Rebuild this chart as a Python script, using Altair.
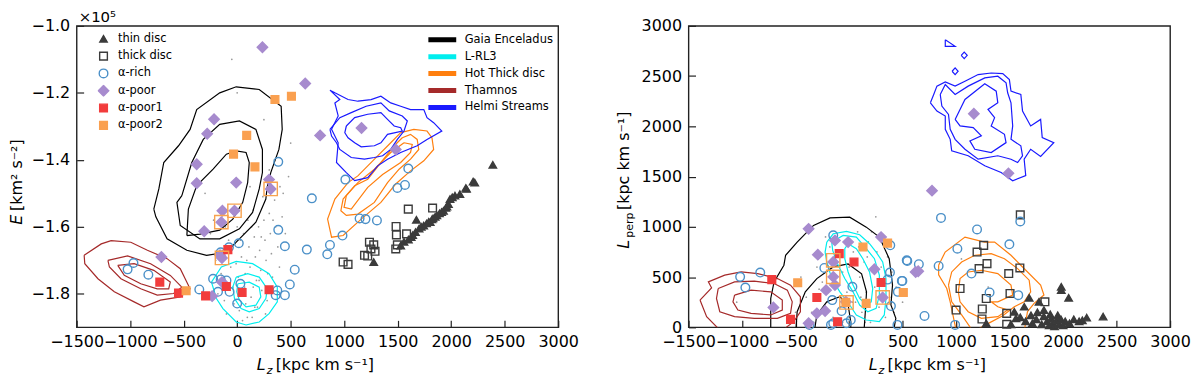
import altair as alt
import pandas as pd

W, H = 484, 303

# ---------------- axes ----------------
X_TICKS = [-1500, -1000, -500, 0, 500, 1000, 1500, 2000, 2500, 3000]
X_DOMAIN = [-1500, 3000]
E_TICKS = [-1.8, -1.6, -1.4, -1.2, -1.0]          # units of 1e5 km^2 s^-2
E_DOMAIN = [-1.9, -1.0]
LP_TICKS = [0, 500, 1000, 1500, 2000, 2500, 3000]
LP_DOMAIN = [0, 3000]

# ---------------- star populations ----------------
POPS = ["thin disc", "thick disc", "α-rich", "α-poor", "α-poor1", "α-poor2"]
POP_SHAPES = ["triangle-up", "square", "circle", "diamond", "square", "square"]
POP_FILLS = ["#3b3b3b", "transparent", "transparent", "#a78bce", "#f23c3c", "#faa050"]
POP_STROKES = ["#3b3b3b", "#3b3b3b", "#4b90c8", "#a78bce", "#f23c3c", "#faa050"]
POP_SIZES = [55, 60, 75, 110, 60, 60]

# left panel: (Lz, E/1e5)
THIN_E = [(1276, -1.705), (1528, -1.656), (1559, -1.645), (1600, -1.638), (1626, -1.631), (1640, -1.625),
          (1666, -1.616), (1675, -1.579), (1700, -1.605), (1720, -1.600), (1743, -1.596), (1770, -1.590),
          (1790, -1.585), (1804, -1.586), (1820, -1.578), (1830, -1.575), (1850, -1.570), (1866, -1.566),
          (1890, -1.560), (1910, -1.556), (1928, -1.552), (1950, -1.543), (1960, -1.540), (1974, -1.532),
          (1989, -1.517), (2010, -1.512), (2035, -1.507), (2081, -1.502), (2137, -1.484), (2143, -1.487),
          (2205, -1.465), (2220, -1.468), (2389, -1.415)]
THICK_E = [(1599, -1.547), (1826, -1.544), (1485, -1.599), (1488, -1.624), (1583, -1.621), (1482, -1.666),
           (1497, -1.654), (1236, -1.646), (1276, -1.654), (1288, -1.673), (1250, -1.666), (1190, -1.685),
           (1220, -1.687), (990, -1.705), (1036, -1.712)]
RICH_E = [(384, -1.406), (698, -1.515), (384, -1.609), (446, -1.658), (538, -1.728), (492, -1.772),
          (446, -1.804), (360, -1.804), (375, -1.790), (15, -1.649), (-77, -1.661), (-154, -1.676),
          (-154, -1.757), (-225, -1.755), (-179, -1.794), (-71, -1.794), (30, -1.770), (0, -1.829),
          (-354, -1.787), (-969, -1.708), (-1024, -1.727), (-830, -1.743), (651, -1.668), (867, -1.654),
          (842, -1.682), (984, -1.626), (1144, -1.575), (1199, -1.577), (1306, -1.581), (1011, -1.459),
          (1599, -1.426), (1568, -1.475), (1497, -1.484), (-100, -1.760)]
POOR_E = [(236, -1.064), (-216, -1.279), (-280, -1.322), (-378, -1.413), (-378, -1.470), (-9, -1.468),
          (636, -1.172), (775, -1.327), (1162, -1.305), (1482, -1.369), (298, -1.459), (313, -1.487),
          (-138, -1.552), (-25, -1.552), (-148, -1.586), (-308, -1.613), (-708, -1.690), (-142, -1.693),
          (-160, -1.685), (-142, -1.765), (-234, -1.807)]
POOR1_E = [(-723, -1.765), (-548, -1.798), (-295, -1.806), (-87, -1.668), (-101, -1.778), (46, -1.796),
           (298, -1.788)]
POOR2_E = [(353, -1.220), (507, -1.210), (89, -1.327), (-34, -1.383), (166, -1.421), (-477, -1.791)]
BOX_E = [(313, -1.487), (-25, -1.552), (-148, -1.586), (-142, -1.693)]
DOTS_E = [(-250, -1.62), (-200, -1.70), (-150, -1.74), (-120, -1.82), (-100, -1.86), (-60, -1.72), (-40, -1.78),
          (-20, -1.65), (0, -1.60), (10, -1.75), (20, -1.85), (40, -1.69), (60, -1.62), (70, -1.78),
          (80, -1.83), (100, -1.58), (110, -1.66), (120, -1.72), (130, -1.81), (140, -1.87), (150, -1.55),
          (160, -1.63), (170, -1.69), (180, -1.76), (190, -1.84), (200, -1.60), (210, -1.67), (220, -1.73),
          (230, -1.79), (240, -1.51), (250, -1.58), (260, -1.64), (270, -1.70), (280, -1.82), (300, -1.56),
          (310, -1.62), (320, -1.68), (330, -1.75), (350, -1.52), (360, -1.60), (380, -1.66), (400, -1.48),
          (420, -1.57), (450, -1.62), (480, -1.45), (-80, -1.64), (-30, -1.83), (50, -1.88), (90, -1.70),
          (150, -1.78), (-180, -1.80), (-140, -1.67), (300, -1.43), (350, -1.40), (120, -1.48), (-300, -1.50),
          (250, -1.28), (-50, -1.10), (500, -1.35), (0, -1.20), (-220, -1.58), (-110, -1.60), (-10, -1.71),
          (30, -1.64), (75, -1.74), (95, -1.87), (135, -1.60), (165, -1.84), (205, -1.76), (225, -1.63),
          (265, -1.86), (285, -1.74), (335, -1.58), (395, -1.72), (430, -1.50)]

# right panel: (Lz, Lperp)
THIN_P = [(1282, 40), (1513, 30), (1544, 155), (1637, 205), (1683, 294), (1713, 40), (1775, 254), (1821, 172),
          (1983, 403), (1983, 370), (2052, 294), (2220, 96), (2374, 106), (1600, 100), (1650, 60), (1700, 120),
          (1750, 80), (1800, 30), (1820, 110), (1850, 60), (1870, 20), (1890, 90), (1900, 40), (1920, 10),
          (1940, 70), (1960, 30), (1980, 80), (2000, 20), (2020, 60), (2060, 40), (2100, 80), (2150, 60),
          (2180, 70), (1880, 130), (1760, 150), (1560, 90), (1950, 120)]
THICK_P = [(1600, 1119), (1258, 815), (1196, 749), (1289, 634), (1215, 584), (1596, 591), (1492, 535),
           (1037, 386), (1504, 337), (1282, 287), (1830, 254), (1245, 182), (1000, 172), (1473, 139),
           (1242, 83), (1473, 30)]
RICH_P = [(-1018, 502), (-830, 545), (-969, 396), (-148, 915), (-231, 591), (31, 403), (-157, 271), (385, 816),
          (382, 545), (360, 475), (493, 462), (539, 667), (456, 353), (391, 212), (16, 73), (-169, 24),
          (-369, 24), (452, 24), (-70, 162), (-148, 40), (-24, 40), (544, 660), (652, 628), (837, 611),
          (859, 1089), (1196, 974), (1012, 782), (1498, 826), (1600, 1053), (1144, 535), (1313, 347),
          (1581, 320), (705, 113), (991, 24), (498, 462)]
POOR_P = [(-378, 980), (-292, 723), (-132, 865), (-9, 848), (299, 898), (237, 578), (622, 551), (-148, 650),
          (-148, 502), (-132, 420), (-215, 370), (-707, 198), (-301, 139), (-224, 162), (314, 297), (-30, 254),
          (-378, 40), (775, 1360), (646, 558), (1166, 2126), (1489, 1532)]
POOR1_P = [(-722, 475), (-92, 733), (46, 650), (-301, 297), (299, 446), (-547, 79), (-107, 56)]
POOR2_P = [(-480, 443), (130, 799), (360, 838), (507, 347), (160, 238), (-30, 248)]
BOX_P = [(-148, 667), (-148, 502), (-24, 248), (314, 297)]
DOTS_P = [(-400, 300), (-350, 150), (-300, 600), (-250, 450), (-200, 250), (-180, 800), (-150, 100), (-120, 400),
          (-100, 700), (-80, 200), (-60, 550), (-40, 850), (-20, 350), (0, 100), (0, 600), (20, 450), (40, 750),
          (60, 250), (80, 950), (100, 500), (120, 150), (140, 650), (160, 350), (180, 850), (200, 50), (220, 550),
          (240, 400), (260, 750), (280, 200), (300, 600), (320, 450), (340, 100), (360, 700), (380, 300),
          (400, 550), (420, 150), (440, 400), (-330, 50), (-220, 900), (-130, 300), (30, 250), (90, 800),
          (150, 50), (210, 950), (270, 300), (330, 850), (-60, 50), (110, 300), (170, 700), (-280, 380),
          (500, 250), (-500, 150), (250, 1100), (1050, 680), (1300, 400), (-1050, 250), (-450, 500)]

# ---------------- contours ----------------
C_NAMES = ["Gaia Enceladus", "L-RL3", "Hot Thick disc", "Thamnos", "Helmi Streams"]
C_COLORS = ["#000000", "#00eeee", "#ff7f0e", "#a52a2a", "#1a1aff"]

GE_E = [
    [(-779, -1.547), (-732, -1.487), (-686, -1.408), (-548, -1.358), (-440, -1.309), (-378, -1.250),
     (-163, -1.200), (-9, -1.182), (206, -1.190), (411, -1.240), (421, -1.309), (390, -1.369), (314, -1.438),
     (280, -1.482), (268, -1.517), (175, -1.586), (21, -1.636), (-101, -1.676), (-286, -1.685), (-470, -1.670),
     (-655, -1.636), (-760, -1.570)],
    [(-517, -1.507), (-424, -1.408), (-317, -1.339), (-163, -1.294), (21, -1.284), (175, -1.309), (236, -1.369),
     (236, -1.438), (206, -1.487), (144, -1.557), (21, -1.606), (-163, -1.636), (-348, -1.636), (-532, -1.596),
     (-563, -1.527)],
    [(-470, -1.626), (-456, -1.547), (-378, -1.477), (-225, -1.428), (-101, -1.383), (-9, -1.373), (83, -1.378),
     (113, -1.408), (98, -1.468), (52, -1.527), (-41, -1.577), (-163, -1.610), (-348, -1.622)],
]
LRL3_E = [
    [(-240, -1.765), (-148, -1.720), (-9, -1.703), (144, -1.710), (298, -1.740), (375, -1.780), (375, -1.824),
     (298, -1.859), (206, -1.884), (83, -1.893), (-9, -1.884), (-133, -1.844), (-194, -1.814)],
    [(-9, -1.750), (98, -1.740), (206, -1.750), (282, -1.785), (268, -1.814), (206, -1.844), (113, -1.854),
     (37, -1.844), (-25, -1.814), (-41, -1.780)],
    [(6, -1.770), (113, -1.765), (206, -1.780), (221, -1.809), (175, -1.834), (83, -1.839), (21, -1.819),
     (-4, -1.794)],
]
HOT_E = [
    [(1528, -1.319), (1651, -1.309), (1774, -1.314), (1820, -1.334), (1836, -1.369), (1744, -1.403),
     (1620, -1.433), (1479, -1.473), (1343, -1.527), (1159, -1.577), (990, -1.626), (882, -1.631),
     (845, -1.577), (913, -1.517), (1036, -1.468), (1128, -1.448), (1313, -1.388), (1435, -1.349)],
    [(1543, -1.334), (1620, -1.324), (1682, -1.339), (1697, -1.369), (1620, -1.398), (1513, -1.428),
     (1405, -1.468), (1282, -1.527), (1128, -1.562), (1020, -1.566), (969, -1.552), (990, -1.517),
     (1098, -1.477), (1220, -1.458), (1343, -1.408), (1467, -1.358)],
    [(1559, -1.349), (1636, -1.354), (1620, -1.378), (1528, -1.408), (1359, -1.444), (1220, -1.482),
     (1066, -1.547), (999, -1.542), (1020, -1.507), (1128, -1.468), (1282, -1.428), (1435, -1.378)],
]
THAM_E = [
    [(-1430, -1.685), (-1270, -1.651), (-1178, -1.641), (-994, -1.646), (-839, -1.670), (-655, -1.695),
     (-532, -1.725), (-440, -1.785), (-532, -1.809), (-717, -1.819), (-871, -1.839), (-963, -1.824),
     (-1148, -1.794), (-1301, -1.755), (-1424, -1.710)],
    [(-1208, -1.700), (-1024, -1.687), (-809, -1.710), (-625, -1.745), (-517, -1.780), (-594, -1.799),
     (-747, -1.804), (-901, -1.785), (-1086, -1.755), (-1194, -1.720)],
    [(-1116, -1.715), (-963, -1.710), (-779, -1.730), (-625, -1.765), (-640, -1.785), (-747, -1.785),
     (-901, -1.770), (-1055, -1.745)],
]
HELMI_E = [
    [(867, -1.192), (959, -1.220), (913, -1.230), (944, -1.269), (882, -1.309), (944, -1.349), (928, -1.408),
     (1020, -1.438), (1098, -1.462), (1220, -1.453), (1313, -1.418), (1405, -1.398), (1528, -1.378),
     (1682, -1.358), (1774, -1.339), (1912, -1.314), (1836, -1.289), (1774, -1.274), (1744, -1.250),
     (1620, -1.250), (1528, -1.240), (1435, -1.230), (1343, -1.210), (1251, -1.220), (1128, -1.225),
     (1036, -1.220), (913, -1.200)],
    [(867, -1.309), (959, -1.274), (1066, -1.259), (1205, -1.240), (1343, -1.230), (1421, -1.254),
     (1543, -1.269), (1590, -1.284), (1559, -1.314), (1497, -1.339), (1435, -1.369), (1359, -1.388),
     (1282, -1.393), (1190, -1.398), (1066, -1.393), (959, -1.369), (928, -1.349), (882, -1.329)],
    [(1020, -1.299), (1098, -1.274), (1220, -1.264), (1343, -1.259), (1405, -1.279), (1467, -1.299),
     (1528, -1.304), (1543, -1.314), (1405, -1.324), (1343, -1.349), (1282, -1.358), (1159, -1.361),
     (1098, -1.349), (1036, -1.334), (1006, -1.319)],
]

GE_P = [
    [(-732, -92), (-732, 287), (-701, 452), (-609, 618), (-593, 717), (-485, 848), (-332, 1014), (-178, 1089),
     (6, 1096), (161, 997), (283, 898), (375, 683), (406, 420), (391, 222), (437, 89), (406, -92)],
    [(-501, -92), (-485, 155), (-409, 353), (-301, 485), (-148, 601), (-9, 631), (117, 532), (163, 353),
     (154, 188), (136, -92)],
    [(-332, -92), (-301, 123), (-208, 254), (-86, 304), (-9, 222), (16, 56), (16, -92)],
]
LRL3_P = [
    [(-208, 848), (-148, 931), (-24, 954), (99, 921), (191, 832), (253, 749), (314, 650), (345, 485),
     (345, 287), (329, 123), (283, 56), (161, 73), (68, 123), (6, 222), (-86, 353), (-162, 485), (-208, 650),
     (-224, 749)],
    [(-162, 848), (-55, 915), (68, 898), (161, 782), (237, 683), (283, 519), (283, 321), (253, 188), (175, 155),
     (99, 222), (37, 353), (-40, 485), (-116, 650), (-153, 766)],
    [(-9, 832), (68, 782), (129, 683), (191, 551), (221, 386), (207, 254), (161, 222), (99, 287), (37, 420),
     (-9, 551), (-40, 683), (-40, 782)],
]
HOT_P = [
    [(837, 618), (898, 749), (1083, 898), (1267, 848), (1360, 848), (1513, 717), (1605, 618), (1790, 420),
     (1821, 321), (1729, 238), (1667, 155), (1636, -43), (1003, -43), (945, 254), (913, 386), (837, 522)],
    [(929, 420), (959, 551), (1052, 650), (1175, 717), (1328, 733), (1452, 683), (1575, 584), (1683, 469),
     (1697, 353), (1636, 254), (1544, 205), (1436, 116), (1298, 37), (1160, -43), (1052, 123), (959, 254)],
    [(1021, 353), (1037, 485), (1113, 551), (1236, 568), (1390, 535), (1513, 420), (1529, 321), (1390, 254),
     (1328, 254), (1390, 205), (1482, 172), (1390, 106), (1236, 89), (1113, 155), (1037, 254)],
]
THAM_P = [
    [(-1393, 271), (-1285, 393), (-1315, 452), (-1162, 519), (-1008, 551), (-854, 535), (-670, 485),
     (-547, 420), (-455, 304), (-455, 155), (-517, 56), (-640, -43), (-1193, -43), (-1331, 106)],
    [(-1223, 386), (-1070, 452), (-886, 459), (-701, 436), (-577, 370), (-531, 254), (-547, 139), (-670, 89),
     (-886, 89), (-1070, 106), (-1208, 155), (-1239, 287)],
    [(-1070, 321), (-916, 370), (-732, 353), (-624, 271), (-624, 172), (-732, 123), (-916, 139), (-1039, 172),
     (-1085, 254)],
]
HELMI_P = [
    [(760, 2234), (791, 2317), (821, 2400), (899, 2442), (991, 2400), (1083, 2449), (1206, 2515), (1328, 2531),
     (1436, 2525), (1498, 2465), (1513, 2350), (1605, 2317), (1621, 2152), (1697, 2004), (1790, 2069),
     (1805, 1888), (1913, 1838), (1790, 1700), (1697, 1772), (1636, 1673), (1651, 1509), (1529, 1459),
     (1421, 1541), (1268, 1608), (1113, 1707), (959, 1756), (945, 1871), (899, 1970), (899, 2103), (821, 2152)],
    [(852, 2317), (899, 2416), (991, 2317), (1113, 2400), (1268, 2482), (1390, 2499), (1467, 2433), (1482, 2334),
     (1513, 2234), (1529, 2004), (1513, 1871), (1605, 1806), (1621, 1707), (1575, 1640), (1513, 1673),
     (1390, 1707), (1206, 1673), (1083, 1772), (991, 1871), (945, 1970), (929, 2119), (867, 2202)],
    [(991, 2069), (1083, 2267), (1268, 2423), (1375, 2350), (1390, 2234), (1298, 2168), (1360, 2086),
     (1328, 2004), (1452, 1921), (1467, 1838), (1328, 1739), (1175, 1772), (1129, 1855), (1236, 1905),
     (1160, 1987), (1037, 2004)],
    [(899, 2861), (991, 2796), (899, 2796)],
    [(1048, 2707), (1076, 2739), (1104, 2707), (1076, 2674)],
    [(963, 2548), (991, 2581), (1019, 2548), (991, 2515)],
]

FONT = "DejaVu Sans"


def star_df(groups):
    rows = []
    for name, pts in zip(POPS, groups):
        for x, y in pts:
            rows.append({"x": x, "y": y, "pop": name})
    return pd.DataFrame(rows)


def pts_df(pts):
    return pd.DataFrame({"x": [p[0] for p in pts], "y": [p[1] for p in pts]})


def contour_df(groups):
    rows = []
    for name, levels in zip(C_NAMES, groups):
        for li, pts in enumerate(levels):
            loop = list(pts) + [pts[0]]
            for k, (x, y) in enumerate(loop):
                rows.append({"x": x, "y": y, "group": name, "loop": f"{name}-{li}", "k": k})
    return pd.DataFrame(rows)


def panel(stars, dots, conts, boxes, y_domain, y_ticks, y_fmt, legend, texts):
    xs = alt.Scale(domain=X_DOMAIN, nice=False, zero=False)
    ys = alt.Scale(domain=y_domain, nice=False, zero=False)
    lab_x = alt.Axis(values=X_TICKS, orient="bottom", ticks=False, domain=False, grid=False, title=None,
                     labelPadding=6, labelFontSize=16, labelFont=FONT, labelColor="black", format="d",
                     labelOverlap=False, labelFlush=False, labelBound=False)
    lab_y = alt.Axis(values=y_ticks, orient="left", ticks=False, domain=False, grid=False, title=None,
                     labelPadding=7, labelFontSize=16, labelFont=FONT, labelColor="black", format=y_fmt,
                     labelOverlap=False, labelFlush=False, labelBound=False)
    tick_x = alt.Axis(values=X_TICKS, orient="bottom", labels=False, domain=False, grid=False, title=None,
                      tickSize=7, tickColor="#222222", tickWidth=1.2, offset=-7)
    tick_y = alt.Axis(values=y_ticks, orient="left", labels=False, domain=False, grid=False, title=None,
                      tickSize=7, tickColor="#222222", tickWidth=1.2, offset=-7)

    if legend:
        leg_s = alt.Legend(title=None, orient="none", legendX=21, legendY=7, labelFont=FONT, labelFontSize=11.5,
                           labelColor="black", clipHeight=12, rowPadding=5.4, symbolStrokeWidth=1.4,
                           labelOffset=8.5, padding=0)
        leg_c = alt.Legend(title=None, orient="none", legendX=351, legendY=8, labelFont=FONT, labelFontSize=11.5,
                           labelColor="black", clipHeight=12, rowPadding=5, symbolType="stroke",
                           symbolSize=784, symbolStrokeWidth=5, labelOffset=6, padding=0)
    else:
        leg_s = None
        leg_c = None

    dot_layer = alt.Chart(dots).mark_circle(size=3, color="#808080", opacity=0.8).encode(
        x=alt.X("x:Q", scale=xs, axis=lab_x), y=alt.Y("y:Q", scale=ys, axis=lab_y))

    cont_layer = alt.Chart(conts).mark_line(strokeWidth=1.2, clip=True).encode(
        x=alt.X("x:Q", scale=xs, axis=None), y=alt.Y("y:Q", scale=ys, axis=None),
        color=alt.Color("group:N", scale=alt.Scale(domain=C_NAMES, range=C_COLORS), legend=leg_c),
        detail="loop:N", order="k:Q")

    star_layer = alt.Chart(stars).mark_point(filled=False, strokeWidth=1.4, opacity=1).encode(
        x=alt.X("x:Q", scale=xs, axis=tick_x), y=alt.Y("y:Q", scale=ys, axis=tick_y),
        shape=alt.Shape("pop:N", scale=alt.Scale(domain=POPS, range=POP_SHAPES), legend=leg_s),
        fill=alt.Fill("pop:N", scale=alt.Scale(domain=POPS, range=POP_FILLS), legend=leg_s),
        stroke=alt.Stroke("pop:N", scale=alt.Scale(domain=POPS, range=POP_STROKES), legend=leg_s),
        size=alt.Size("pop:N", scale=alt.Scale(type="ordinal", domain=POPS, range=POP_SIZES), legend=leg_s))

    box_layer = alt.Chart(boxes).mark_point(shape="square", size=180, filled=False, stroke="#f8a24e",
                                            strokeWidth=1.4, opacity=1).encode(
        x=alt.X("x:Q", scale=xs, axis=None), y=alt.Y("y:Q", scale=ys, axis=None))

    one = pd.DataFrame({"i": [0]})
    text_layers = []
    for t in texts:
        props = dict(text=t["text"], font=FONT, fontSize=t.get("size", 16), align="left",
                     baseline="alphabetic", color="black")
        if t.get("italic"):
            props["fontStyle"] = "italic"
        if t.get("angle"):
            props["angle"] = t["angle"]
        text_layers.append(alt.Chart(one).mark_text(**props).encode(
            x=alt.value(t["x"]), y=alt.value(t["y"])))

    return alt.layer(dot_layer, cont_layer, star_layer, box_layer, *text_layers).resolve_axis(
        x="independent", y="independent").properties(width=W, height=H)


left_texts = [
    {"text": "×10⁵", "x": 2, "y": -4, "size": 15},
    {"text": "L", "x": 181, "y": 345.6, "italic": True},
    {"text": "z", "x": 191, "y": 349.5, "italic": True, "size": 11},
    {"text": "[kpc km s⁻¹]", "x": 200, "y": 345.6},
    {"text": "E", "x": -55, "y": 200, "italic": True, "angle": 270},
    {"text": "[km² s⁻²]", "x": -55, "y": 186, "angle": 270},
]
right_texts = [
    {"text": "L", "x": 181, "y": 345.6, "italic": True},
    {"text": "z", "x": 191, "y": 349.5, "italic": True, "size": 11},
    {"text": "[kpc km s⁻¹]", "x": 200, "y": 345.6},
    {"text": "L", "x": -60, "y": 224, "italic": True, "angle": 270},
    {"text": "perp", "x": -56, "y": 213, "size": 11, "angle": 270},
    {"text": "[kpc km s⁻¹]", "x": -60, "y": 185, "angle": 270},
]

left = panel(star_df([THIN_E, THICK_E, RICH_E, POOR_E, POOR1_E, POOR2_E]), pts_df(DOTS_E),
             contour_df([GE_E, LRL3_E, HOT_E, THAM_E, HELMI_E]), pts_df(BOX_E),
             E_DOMAIN, E_TICKS, ".1f", True, left_texts)
right = panel(star_df([THIN_P, THICK_P, RICH_P, POOR_P, POOR1_P, POOR2_P]), pts_df(DOTS_P),
              contour_df([GE_P, LRL3_P, HOT_P, THAM_P, HELMI_P]), pts_df(BOX_P),
              LP_DOMAIN, LP_TICKS, "d", False, right_texts)

chart = alt.hconcat(left, right, spacing=35).resolve_scale(
    x="independent", y="independent", color="independent", fill="independent",
    stroke="independent", shape="independent", size="independent").properties(
    padding={"left": 0, "top": 0, "right": 0, "bottom": 0}, background="white").configure_view(
    stroke="#222222", strokeWidth=1.4)

chart.save("out.html", embed_options={"renderer": "svg", "actions": False})
